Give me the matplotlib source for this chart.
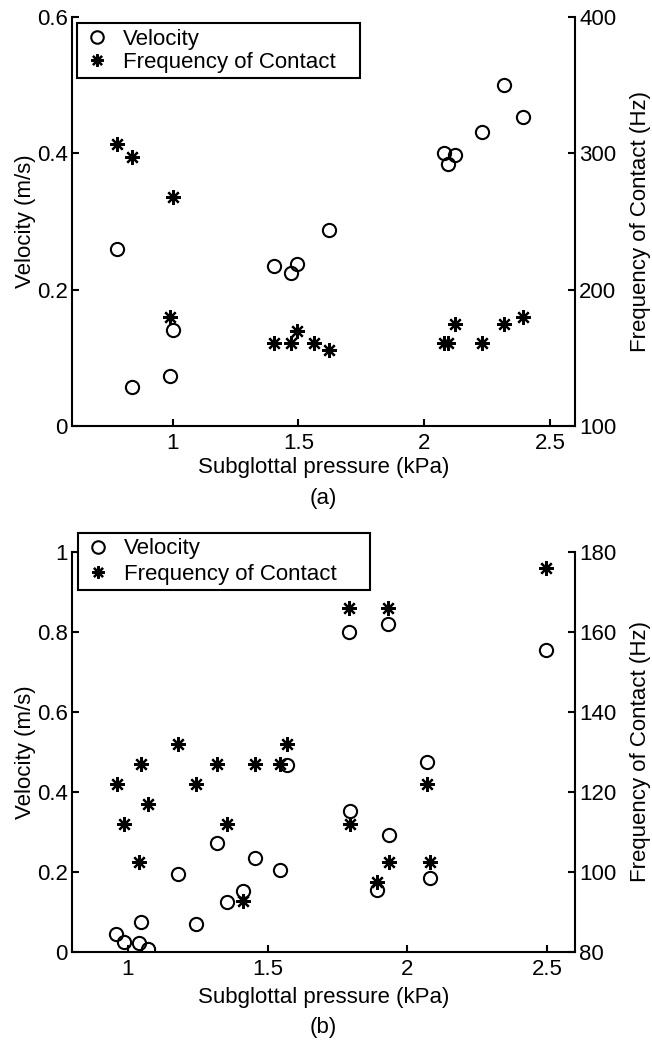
import matplotlib
matplotlib.use("Agg")
import matplotlib.pyplot as plt
from matplotlib.lines import Line2D

plt.rcParams['font.family'] = ['Liberation Sans', 'DejaVu Sans']

# ---- Panel (a) data ----
a_vel_x = [0.778, 0.839, 0.989, 1.000, 1.404, 1.470, 1.493, 1.622, 2.080, 2.096, 2.122, 2.231, 2.318, 2.395]
a_vel_y = [0.259, 0.057, 0.074, 0.141, 0.234, 0.225, 0.237, 0.288, 0.401, 0.385, 0.397, 0.432, 0.500, 0.453]
a_freq_x = [0.778, 0.839, 1.000, 0.989, 1.404, 1.470, 1.493, 1.561, 1.622, 2.078, 2.096, 2.122, 2.231, 2.318, 2.395]
a_freq_y = [307, 297, 268, 180, 161, 161, 170, 161, 156, 161, 161, 175, 161, 175, 180]

# ---- Panel (b) data ----
b_vel_x = [0.959, 0.985, 1.047, 1.039, 1.071, 1.178, 1.243, 1.319, 1.356, 1.411, 1.454,
           1.546, 1.568, 1.792, 1.795, 1.892, 1.930, 1.935, 2.070, 2.080, 2.497]
b_vel_y = [0.044, 0.026, 0.074, 0.023, 0.008, 0.194, 0.069, 0.272, 0.126, 0.153, 0.235,
           0.204, 0.468, 0.801, 0.353, 0.156, 0.821, 0.292, 0.474, 0.184, 0.754]
b_freq_x = [0.961, 0.985, 1.039, 1.047, 1.071, 1.178, 1.243, 1.319, 1.356, 1.411, 1.454,
            1.546, 1.568, 1.792, 1.795, 1.892, 1.930, 1.935, 2.070, 2.080, 2.497]
b_freq_y = [122, 112, 102.5, 127, 117, 132, 122, 127, 112, 92.7, 127,
            127, 132, 166, 112, 97.6, 166, 102.5, 122, 102.5, 176]

x_label = "Subglottal pressure (kPa)"
y_left_label = "Velocity (m/s)"
y_right_label = "Frequency of Contact (Hz)"
legend_labels = ["Velocity", "Frequency of Contact"]

W, H = 652, 1040
fig = plt.figure(figsize=(W / 100, H / 100), dpi=100)

FS = 16
STAR = (8, 2, 0)


def px_rect(l, t, r, b):
    return [l / W, 1 - b / H, (r - l) / W, (b - t) / H]


def make_panel(rect, vx, vy, fx, fy, xlim, ylim, y2lim, xticks, yticks, y2ticks,
               yticklabels, y2ticklabels, leg_box, leg_spacing, tag, tag_y, xlabel_y):
    ax = fig.add_axes(rect)
    ax2 = ax.twinx()
    ax.plot(vx, vy, linestyle='none', marker='o', markersize=9.5, mfc='none',
            mec='black', mew=1.5)
    ax2.plot(fx, fy, linestyle='none', marker=STAR, markersize=10.5, color='black',
             mew=1.6)
    ax.set_xlim(*xlim)
    ax.set_ylim(*ylim)
    ax2.set_ylim(*y2lim)
    ax.set_xticks(xticks)
    ax.set_xticklabels([('%g' % t) for t in xticks])
    ax.set_yticks(yticks)
    ax.set_yticklabels(yticklabels)
    ax2.set_yticks(y2ticks)
    ax2.set_yticklabels(y2ticklabels)
    for a in (ax, ax2):
        a.spines['top'].set_visible(False)
        for s in a.spines.values():
            s.set_linewidth(1.5)
        a.tick_params(direction='in', length=5, width=1.5, labelsize=FS)
    ax.tick_params(axis='x', pad=5)
    ax.tick_params(axis='y', pad=3)
    ax2.tick_params(axis='y', pad=3)
    ax.spines['right'].set_visible(False)
    ax2.spines['left'].set_visible(False)
    ax2.spines['bottom'].set_visible(False)
    ax.set_ylabel(y_left_label, fontsize=FS, labelpad=1)
    ax2.set_ylabel(y_right_label, fontsize=FS, labelpad=10)
    handles = [Line2D([], [], linestyle='none', marker='o', markersize=9, mfc='none',
                      mec='black', mew=1.5),
               Line2D([], [], linestyle='none', marker=STAR, markersize=9, color='black',
                      mew=1.6)]
    leg = ax2.legend(handles, legend_labels, loc='upper left', bbox_to_anchor=leg_box,
                     mode='expand', fontsize=FS, frameon=True, fancybox=False,
                     framealpha=1, edgecolor='black', handlelength=1.3,
                     handletextpad=0.5, borderpad=0.25, labelspacing=leg_spacing,
                     borderaxespad=0)
    leg.get_frame().set_linewidth(1.5)
    cx = rect[0] + rect[2] / 2
    fig.text(cx, 1 - xlabel_y / H, x_label, ha='center', va='center', fontsize=FS)
    fig.text(cx, 1 - tag_y / H, tag, ha='center', va='center', fontsize=FS)
    return ax, ax2


# panel (a)
make_panel(px_rect(72, 17, 575, 426), a_vel_x, a_vel_y, a_freq_x, a_freq_y,
           (0.6, 2.6), (0, 0.6), (100, 400), [1, 1.5, 2, 2.5], [0, 0.2, 0.4, 0.6],
           [100, 200, 300, 400], ['0', '0.2', '0.4', '0.6'], ['100', '200', '300', '400'],
           (0.01, 0.985 - 0.2, 0.563, 0.2), 0.1, '(a)', 498, 467)

# panel (b)
make_panel(px_rect(72, 552, 575, 952), b_vel_x, b_vel_y, b_freq_x, b_freq_y,
           (0.8, 2.6), (0, 1.0), (80, 180), [1, 1.5, 2, 2.5], [0, 0.2, 0.4, 0.6, 0.8, 1.0],
           [80, 100, 120, 140, 160, 180], ['0', '0.2', '0.4', '0.6', '0.8', '1'],
           ['80', '100', '120', '140', '160', '180'],
           (0.012, 1.048 - 0.2, 0.58, 0.2), 0.2, '(b)', 1027, 997)

fig.savefig("out.png", dpi=100)
